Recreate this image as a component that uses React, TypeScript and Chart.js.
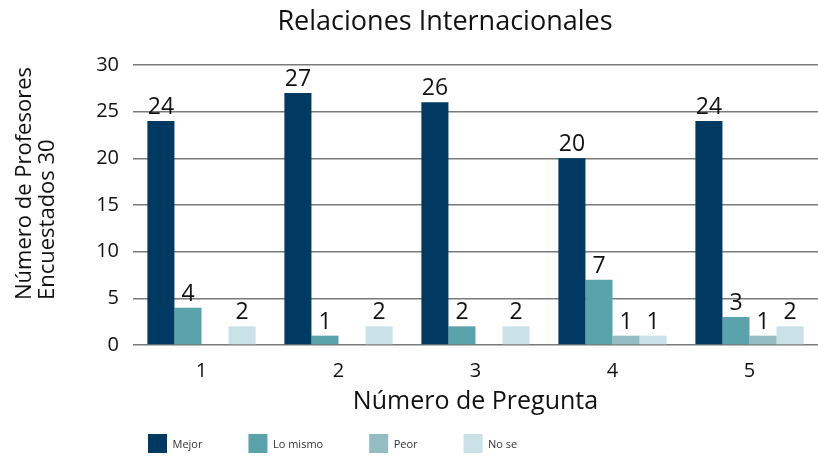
import React, { useEffect, useRef } from "react";
import { Chart, registerables } from "chart.js";

Chart.register(...registerables);

// ---- Data ----
const categories = ["1", "2", "3", "4", "5"];
const seriesNames = ["Mejor", "Lo mismo", "Peor", "No se"];
const mejor = [24, 27, 26, 20, 24];
const loMismo = [4, 1, 2, 7, 3];
const peor = [0, 0, 0, 1, 1];
const noSe = [2, 2, 2, 1, 2];
const yMin = 0;
const yMax = 30;
const yStep = 5;
const chartTitle = "Relaciones Internacionales";
const yTitleLines = ["Número de Profesores", "Encuestados 30"];
const xTitle = "Número de Pregunta";

const seriesColors = ["#003a63", "#5aa3ab", "#93bdc3", "#c9e1e7"];
const FONT = "'Open Sans', sans-serif";
const TEXT = "#111111";

const valueLabelsPlugin = {
  id: "valueLabels",
  afterDatasetsDraw(chart: any) {
    const ctx = chart.ctx;
    ctx.save();
    ctx.font = `23px ${FONT}`;
    ctx.fillStyle = TEXT;
    ctx.textAlign = "center";
    ctx.textBaseline = "alphabetic";
    chart.data.datasets.forEach((ds: any, i: number) => {
      const meta = chart.getDatasetMeta(i);
      meta.data.forEach((bar: any, j: number) => {
        const v = ds.data[j];
        if (v > 0) ctx.fillText(String(v), bar.x, bar.y - 7);
      });
    });
    ctx.restore();
  },
};

const textPlugin = {
  id: "extraText",
  afterDraw(chart: any) {
    const ctx = chart.ctx;
    const area = chart.chartArea;
    ctx.save();
    // Chart title
    ctx.font = `27px ${FONT}`;
    ctx.fillStyle = TEXT;
    ctx.textAlign = "center";
    ctx.textBaseline = "alphabetic";
    ctx.fillText(chartTitle, chart.width * 0.544, 30);
    // Y axis title (two lines, left aligned, rotated)
    ctx.font = `22px ${FONT}`;
    ctx.translate(25, 300);
    ctx.rotate(-Math.PI / 2);
    ctx.textAlign = "left";
    ctx.textBaseline = "middle";
    yTitleLines.forEach((line, k) => ctx.fillText(line, 0, k * 23));
    ctx.restore();

    // Legend
    ctx.save();
    ctx.font = `11px ${FONT}`;
    ctx.textBaseline = "middle";
    ctx.textAlign = "left";
    const box = 19;
    let x = area.left + 15;
    const top = 434;
    chart.data.datasets.forEach((ds: any) => {
      ctx.fillStyle = ds.backgroundColor;
      ctx.fillRect(x, top, box, box);
      ctx.fillStyle = "#333333";
      const tx = x + box + 5.5;
      ctx.fillText(ds.label, tx, top + box / 2 + 1);
      x = tx + ctx.measureText(ds.label).width + 46;
    });
    ctx.restore();
  },
};

export default function App() {
  const ref = useRef<HTMLCanvasElement | null>(null);

  useEffect(() => {
    document.body.style.margin = "0";
    const canvas = ref.current;
    if (!canvas) return;
    const values = [mejor, loMismo, peor, noSe];
    const chart = new Chart(canvas, {
      type: "bar",
      data: {
        labels: categories,
        datasets: seriesNames.map((name, i) => ({
          label: name,
          data: values[i],
          backgroundColor: seriesColors[i],
          borderWidth: 0,
          categoryPercentage: 0.79,
          barPercentage: 1.0,
        })),
      },
      options: {
        animation: false,
        responsive: false,
        devicePixelRatio: 1,
        layout: { padding: { top: 65, right: 0, left: 0, bottom: 31 } },
        plugins: {
          legend: { display: false },
          title: { display: false },
          tooltip: { enabled: false },
        },
        scales: {
          x: {
            grid: { display: false, drawTicks: false },
            border: { display: false },
            ticks: {
              color: TEXT,
              font: { family: FONT, size: 20 },
              padding: 14,
            },
            title: {
              display: true,
              text: xTitle,
              color: TEXT,
              font: { family: FONT, size: 25 },
              padding: { top: 0, bottom: 8 },
            },
            afterFit(scale: any) {
              scale.height = 80;
            },
          },
          y: {
            min: yMin,
            max: yMax,
            grid: { color: "#7a7a7a", lineWidth: 1.5, drawTicks: false },
            border: { display: false },
            ticks: {
              stepSize: yStep,
              color: TEXT,
              font: { family: FONT, size: 20 },
              padding: 14,
            },
            afterFit(scale: any) {
              scale.width = 133;
            },
          },
        },
      },
      plugins: [valueLabelsPlugin, textPlugin],
    });
    return () => chart.destroy();
  }, []);

  return (
    <div style={{ width: 818, height: 456 }}>
      <canvas ref={ref} width={818} height={456} />
    </div>
  );
}
